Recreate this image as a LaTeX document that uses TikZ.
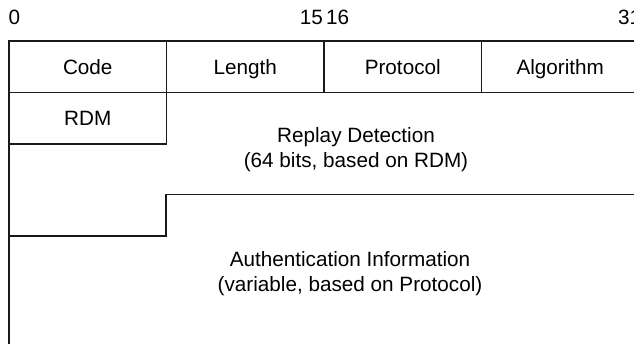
\documentclass[tikz,border=0pt]{standalone}
\usepackage{fontspec}
\setmainfont{Liberation Sans}
\usetikzlibrary{positioning}

\begin{document}
\begin{tikzpicture}[x=1pt,y=-1pt,font=\fontsize{20.7}{25}\selectfont,
  field/.style={draw=black!90,line width=1.4pt,minimum width=157.5pt,minimum height=51.5pt,inner sep=0pt,outer sep=0pt,
    text height=14.9pt,text depth=0pt,anchor=north west},
  edge/.style={draw=black!90,line width=1.4pt},
  bit/.style={inner sep=0pt,anchor=base west},
  txt/.style={align=center,inner sep=0pt},node distance=0pt]
  \useasboundingbox (0,0) rectangle (634,344);
  \clip (0,0) rectangle (634,344);
  \node[bit](b0) at (8.5,25){0};
  \node[bit,anchor=base east](b15) at (323,25){15};
  \node[bit](b16) at (326,25){16};
  \node[bit](b31) at (618,25){31};
  \node[field](code) at (9,41){Code};
  \node[field,right=of code](len){Length};
  \node[field,right=of len](proto){Protocol};
  \node[field,right=of proto](alg){Algorithm};
  \node[field,below=of code](rdm){RDM};
  \coordinate (stepR) at (660,194.5);
  \coordinate (stepA) at (166,194.5);
  \coordinate (stepB) at (166,236);
  \coordinate (stepL) at (9,236);
  \coordinate (foot) at (9,360);
  \draw[edge](stepR)--(stepA)--(stepB)--(stepL);
  \draw[edge](rdm.south west)--(foot);
  \node[txt](replay) at (356,150){Replay Detection\\(64 bits, based on RDM)};
  \node[txt](auth) at (350,274){Authentication Information\\(variable, based on Protocol)};
\end{tikzpicture}
\end{document}
